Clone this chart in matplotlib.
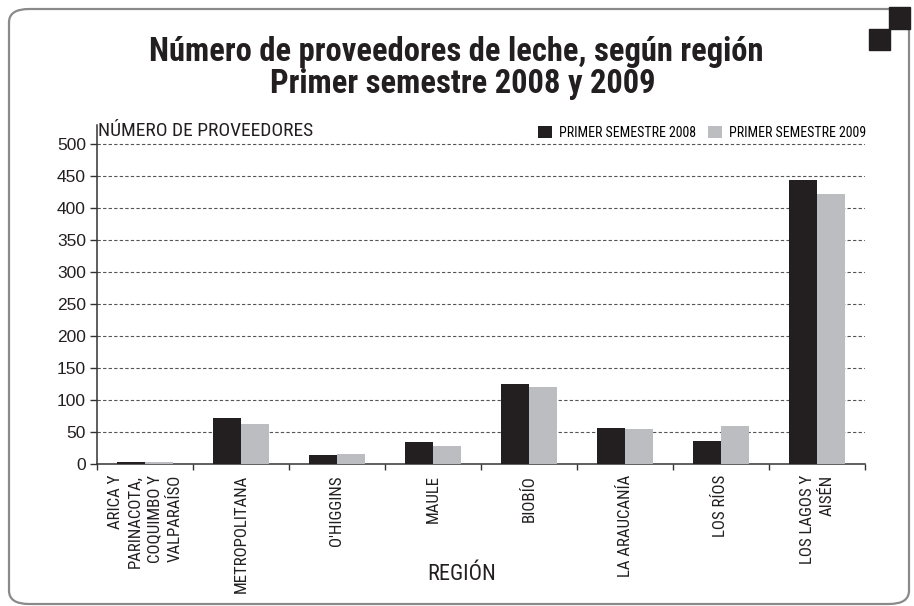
import matplotlib
matplotlib.use("Agg")
import matplotlib.pyplot as plt
import numpy as np
from matplotlib import font_manager
from matplotlib.patches import FancyBboxPatch, Rectangle
from matplotlib.ticker import FixedLocator

regiones = ["ARICA Y\nPARINACOTA,\nCOQUIMBO Y\nVALPARAÍSO", "METROPOLITANA", "O'HIGGINS",
            "MAULE", "BIOBÍO", "LA ARAUCANÍA", "LOS RÍOS", "LOS LAGOS Y\nAISÉN"]
sem_2008 = [3, 72, 14, 34, 125, 56, 36, 444]
sem_2009 = [3, 63, 16, 28, 120, 55, 59, 422]
series = ["PRIMER SEMESTRE 2008", "PRIMER SEMESTRE 2009"]
colores = ["#231f20", "#bcbdc0"]

W, H = 914, 606

# fuente angosta: la primera que este instalada
instaladas = {f.name for f in font_manager.fontManager.ttflist}
NARROW = next((f for f in ["Liberation Sans Narrow", "Roboto Condensed",
                           "Open Sans Condensed", "Roboto"] if f in instaladas),
              "DejaVu Sans")


def fx(px):
    return px / W


def fy(py):
    return 1 - py / H


fig = plt.figure(figsize=(W / 100, H / 100), dpi=100)

# marco con esquinas redondeadas y cuadros decorativos
frame = FancyBboxPatch((fx(9), fy(604)), fx(900), fy(9) - fy(604),
                       boxstyle="round,pad=0,rounding_size=0.022",
                       transform=fig.transFigure, fill=False,
                       edgecolor="#8a8a8a", linewidth=1.6)
fig.add_artist(frame)
fig.add_artist(Rectangle((fx(889), fy(29)), fx(21), fy(7) - fy(29),
                         transform=fig.transFigure, color="#231f20"))
fig.add_artist(Rectangle((fx(869), fy(50)), fx(21), fy(29) - fy(50),
                         transform=fig.transFigure, color="#231f20"))

ax = fig.add_axes([fx(97), fy(464), fx(865 - 97), fy(125) - fy(464)])

x = np.arange(len(regiones))
w = 0.29
ax.bar(x - w / 2, sem_2008, w, color=colores[0], label=series[0], zorder=3)
ax.bar(x + w / 2, sem_2009, w, color=colores[1], label=series[1], zorder=3)

ax.set_xlim(-0.5, len(regiones) - 0.5)
ax.set_ylim(0, 530)
ax.yaxis.set_major_locator(FixedLocator(np.arange(0, 501, 50)))
for v in np.arange(50, 501, 50):
    ax.axhline(v, color="#555555", linestyle=(0, (3, 2)), linewidth=0.8, zorder=1)

for s in ["top", "right"]:
    ax.spines[s].set_visible(False)
for s in ["left", "bottom"]:
    ax.spines[s].set_color("#333333")
    ax.spines[s].set_linewidth(1.1)

ax.tick_params(axis="y", length=5, width=1, color="#333333", pad=3,
               labelsize=12.5, labelcolor="#231f20")
for lab in ax.get_yticklabels():
    lab.set_fontfamily("Liberation Sans")

ax.set_xticks(x)
ax.set_xticks(np.arange(-0.5, len(regiones), 1), minor=True)
ax.tick_params(axis="x", which="major", length=0, pad=8)
ax.tick_params(axis="x", which="minor", length=4, width=1, color="#333333")
ax.set_xticklabels(regiones, rotation=90, ha="center", va="top",
                   fontfamily=NARROW, fontsize=12.2, color="#231f20",
                   multialignment="right", linespacing=1.4)

fig.text(fx(98), fy(131), "NÚMERO DE PROVEEDORES", fontfamily=NARROW,
         fontsize=14, color="#231f20", ha="left", va="center")
fig.text(fx(462), fy(574), "REGIÓN", fontfamily=NARROW, fontsize=16,
         color="#231f20", ha="center", va="center")

fig.text(fx(456), fy(61), "Número de proveedores de leche, según región",
         fontfamily=NARROW, fontweight="black", fontsize=23.5, color="#231f20",
         ha="center", va="baseline")
fig.text(fx(463), fy(93), "Primer semestre 2008 y 2009",
         fontfamily=NARROW, fontweight="black", fontsize=23.5, color="#231f20",
         ha="center", va="baseline")

ax.legend(loc="center right", bbox_to_anchor=(fx(866), fy(133)),
          bbox_transform=fig.transFigure, ncol=2, frameon=False,
          prop={"family": NARROW, "size": 10}, handlelength=1.0,
          handleheight=1.0, handletextpad=0.5, columnspacing=0.9,
          borderpad=0, borderaxespad=0)

fig.savefig("out.png", dpi=100)
